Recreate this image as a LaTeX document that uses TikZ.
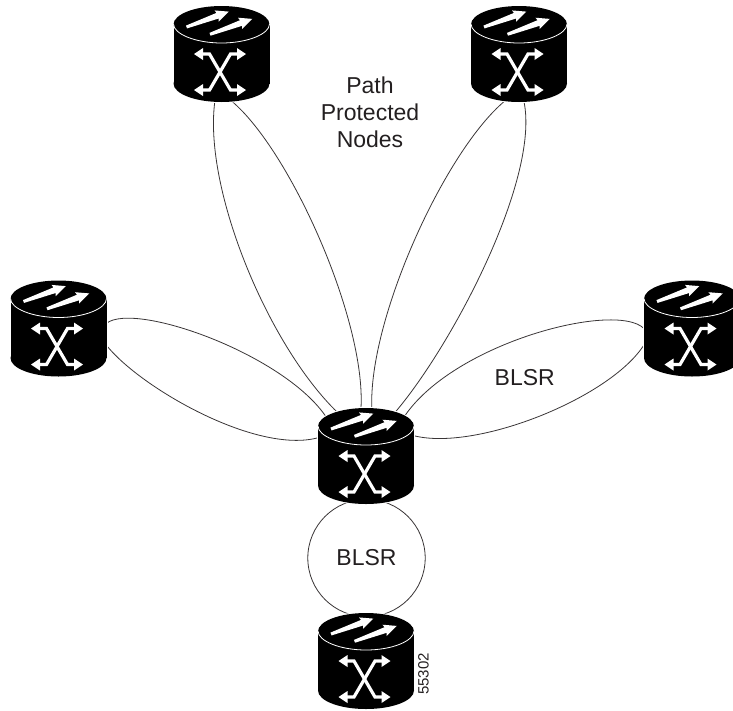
\documentclass[tikz,border=0pt]{standalone}
\usepackage{fontspec}
\setmainfont{Liberation Sans}
\definecolor{inkgray}{HTML}{231F20}
\tikzset{
  routernode/.style={circle, minimum size=96pt, inner sep=0pt, outer sep=0pt},
  ringline/.style={line width=0.8pt, draw=inkgray!90},
  labeltext/.style={text=inkgray, font=\fontsize{23}{27}\selectfont, align=center, inner sep=0pt},
  pics/routericon/.style={code={
    \draw[white, fill=white, line width=2pt](0, -29.5) ellipse [x radius=48, y radius=18.5];
    \draw[white, fill=white, line width=2pt](0, 29.5) ellipse [x radius=48, y radius=18.5];
    \draw[white, fill=white, line width=2pt](-48, -29.5) rectangle (48, 29.5);
    \path[fill=black](0, -29.5) ellipse [x radius=48, y radius=18.5];
    \path[fill=black](0, 29.5) ellipse [x radius=48, y radius=18.5];
    \path[fill=black](-48, -29.5) rectangle (48, 29.5);
    \draw[white, line width=0.8pt](-48, -30) .. controls (-48, -20) and (-26, -11) .. (0, -11) .. controls (26, -11) and (48, -20) .. (48, -30);
    \foreach \tailx/\taily in {-35/-27, -11.5/-19.7}{
      \path[fill=white, shift={(\tailx, \taily)}, rotate=20](0, 1.5)--(33, 3)--(32, 6)--(45, 0)--(32, -6)--(33, -3)--(0, -1.5)--cycle;
    }
    \draw[white, line width=3.2pt](-21, 0)--(-12, 0)--(9, 36)--(18, 36);
    \draw[white, line width=3.2pt](18, 0)--(9, 0)--(-12, 36)--(-21, 36);
    \foreach \headx/\heady/\headdir in {-27.5/0/1, 24.5/0/-1, -27.5/36/1, 24.5/36/-1}{
      \path[fill=white, shift={(\headx, \heady)}, xscale=\headdir](0, 0)--(9, -6)--(9, 6)--cycle;
    }
  }}
}
\begin{document}
\begin{tikzpicture}[x=1pt, y=-1pt]
  \useasboundingbox (0, 0) rectangle (733, 710);
  \node[routernode](topleft) at (221.5, 54) {};
  \node[routernode](topright) at (519, 54) {};
  \node[routernode](left) at (58.5, 328.5) {};
  \node[routernode](right) at (692, 328.5) {};
  \node[routernode](central) at (366, 456) {};
  \node[routernode](bottom) at (366, 661) {};
  \node[circle, ringline, draw, minimum size=117.4pt, inner sep=0pt, labeltext](ring) at (366.5, 558) {BLSR};
  \draw[ringline](topleft.262) .. controls (203, 190) and (270, 350) .. (central.122);
  \draw[ringline](topleft.282) .. controls (290, 150) and (366, 320) .. (central.96);
  \draw[ringline](topright.254) .. controls (445, 150) and (368, 320) .. (central.83);
  \draw[ringline](topright.276) .. controls (540, 180) and (450, 350) .. (central.57);
  \draw[ringline](left.6) .. controls (135, 300) and (295, 358) .. (central.138);
  \draw[ringline](left.343) .. controls (135, 385) and (260, 458) .. (central.156);
  \draw[ringline](right.180) .. controls (615, 300) and (445, 345) .. (central.44);
  \draw[ringline](right.196) .. controls (615, 397) and (470, 455) .. (central.27);
  \pic at (topleft) {routericon};
  \pic at (topright) {routericon};
  \pic at (left) {routericon};
  \pic at (right) {routericon};
  \pic at (central) {routericon};
  \pic at (bottom) {routericon};
  \node[labeltext](pathlabel) at (370, 112) {Path\\Protected\\Nodes};
  \node[labeltext](blsrlabel) at (524.7, 378) {BLSR};
  \node[text=inkgray, font=\fontsize{15}{15}\selectfont, inner sep=0pt, rotate=90](figlabel) at (423.5, 674) {55302};
\end{tikzpicture}
\end{document}
